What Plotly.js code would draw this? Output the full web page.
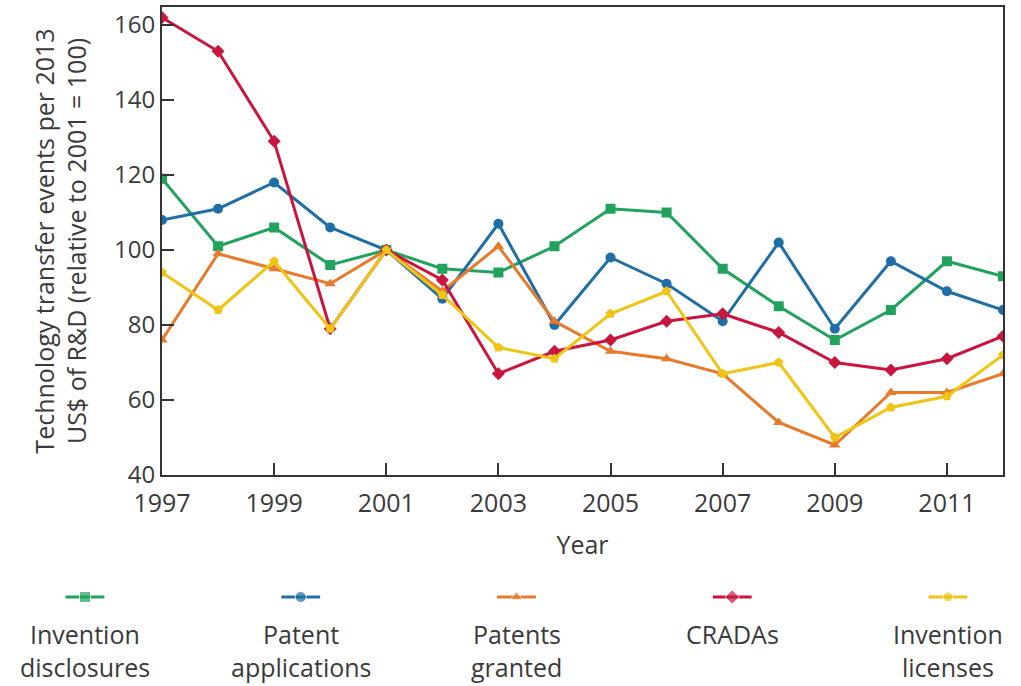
<!DOCTYPE html>
<html>
<head>
<meta charset="utf-8">
<script src="https://cdn.plot.ly/plotly-3.0.1.min.js"></script>
<style>html,body{margin:0;padding:0;background:#fff;}#chart{width:1021px;height:686px;}</style>
</head>
<body>
<div id="chart"></div>
<script>
const years = [1997,1998,1999,2000,2001,2002,2003,2004,2005,2006,2007,2008,2009,2010,2011,2012];

const inventionDisclosures = [119,101,106,96,100,95,94,101,111,110,95,85,76,84,97,93];
const patentApplications   = [108,111,118,106,100,87,107,80,98,91,81,102,79,97,89,84];
const patentsGranted       = [76,99,95,91,100,89,101,81,73,71,67,54,48,62,62,67];
const cradas               = [162,153,129,79,100,92,67,73,76,81,83,78,70,68,71,77];
const inventionLicenses    = [94,84,97,79,100,88,74,71,83,89,67,70,50,58,61,72];

const seriesNames  = ["Invention disclosures","Patent applications","Patents granted","CRADAs","Invention licenses"];
const legendLine1  = ["Invention","Patent","Patents","CRADAs","Invention"];
const legendLine2  = ["disclosures","applications","granted","","licenses"];
const seriesValues = [inventionDisclosures, patentApplications, patentsGranted, cradas, inventionLicenses];
const seriesColors = ["#21a35e","#1f6ea6","#e87a2c","#c8163f","#f0c414"];
const seriesSymbols = ["square","circle","triangle-up","diamond","pentagon"];

const yTicks = [40,60,80,100,120,140,160];
const xTicks = [1997,1999,2001,2003,2005,2007,2009,2011];

const W = 1021, H = 686;
const plotL = 162, plotR = 1003, plotT = 7, plotB = 475;

const font = {family: "Open Sans, Noto Sans, sans-serif", color: "#3a3a3a"};

const traces = seriesValues.map((vals, i) => ({
  type: "scatter", mode: "lines+markers", name: seriesNames[i],
  x: years, y: vals, xaxis: "x", yaxis: "y",
  line: {color: seriesColors[i], width: 3},
  marker: {color: seriesColors[i], symbol: seriesSymbols[i], size: 10},
  showlegend: false, hoverinfo: "x+y+name"
}));

// custom legend symbols (marker above text) on a hidden helper axis
seriesNames.forEach((n, i) => {
  traces.push({
    type: "scatter", mode: "lines+markers", name: n,
    x: [i - 0.09, i, i + 0.09], y: [0, 0, 0], xaxis: "x2", yaxis: "y2",
    line: {color: seriesColors[i], width: 3},
    marker: {color: seriesColors[i], symbol: seriesSymbols[i], size: [0, 11, 0]},
    showlegend: false, hoverinfo: "skip"
  });
});

// legend helper axis mapping: index 0 -> px 85, spacing ~215.75 px
const legStart = 85, legStep = 215.75;
const r0 = -legStart / legStep, r1 = r0 + W / legStep;

const legFont = Object.assign({}, font, {size: 25});
const annotations = [];
legendLine1.forEach((t, i) => {
  annotations.push({xref: "x2", x: i, yref: "paper", y: (H - 634) / H, text: t, showarrow: false,
    xanchor: "center", yanchor: "middle", font: legFont});
  if (legendLine2[i]) annotations.push({xref: "x2", x: i, yref: "paper", y: (H - 667) / H, text: legendLine2[i], showarrow: false,
    xanchor: "center", yanchor: "middle", font: legFont});
});

const layout = {
  width: W, height: H,
  margin: {l: 0, r: 0, t: 0, b: 0},
  paper_bgcolor: "#ffffff", plot_bgcolor: "#ffffff",
  font: font,
  showlegend: false,
  xaxis: {
    domain: [plotL / W, plotR / W], range: [1997, 2012],
    tickvals: xTicks, ticktext: xTicks.map(String),
    ticks: "inside", ticklen: 12, tickwidth: 2, tickcolor: "#333",
    showline: true, linecolor: "#333", linewidth: 2, mirror: true,
    showgrid: false, zeroline: false,
    tickfont: {size: 25, color: "#3a3a3a"}, ticklabelstandoff: 5,
    title: {text: "Year", font: {size: 25, color: "#3a3a3a"}, standoff: 18},
    automargin: false, anchor: "y"
  },
  yaxis: {
    domain: [(H - plotB) / H, (H - plotT) / H], range: [40, 164.8],
    tickvals: yTicks, ticktext: yTicks.map(String),
    ticks: "inside", ticklen: 12, tickwidth: 2, tickcolor: "#333",
    showline: true, linecolor: "#333", linewidth: 2, mirror: true,
    showgrid: false, zeroline: false,
    tickfont: {size: 24, color: "#3a3a3a"},
    title: {text: "Technology transfer events per 2013<br>US$ of R&amp;D (relative to 2001 = 100)", font: {size: 25, color: "#3a3a3a"}, standoff: 20},
    automargin: false, anchor: "x"
  },
  xaxis2: {domain: [0, 1], range: [r0, r1], visible: false, anchor: "y2", fixedrange: true},
  yaxis2: {domain: [(H - 612) / H, (H - 582) / H], range: [-1, 1], visible: false, anchor: "x2", fixedrange: true},
  annotations: annotations
};

Plotly.newPlot("chart", traces, layout, {displayModeBar: false, staticPlot: true});
</script>
</body>
</html>
